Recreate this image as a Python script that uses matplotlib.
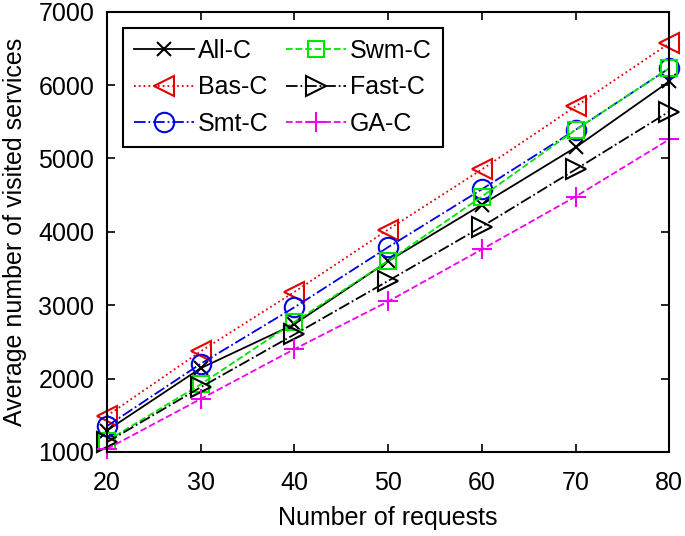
import matplotlib.pyplot as plt
import numpy as np

plt.rcParams['font.family'] = ['Liberation Sans', 'DejaVu Sans']

requests = [20, 30, 40, 50, 60, 70, 80]
all_c = [1290, 2140, 2740, 3600, 4370, 5150, 6050]
bas_c = [1490, 2370, 3180, 4030, 4850, 5710, 6570]
smt_c = [1350, 2200, 2970, 3790, 4580, 5390, 6230]
swm_c = [1150, 1920, 2770, 3600, 4480, 5390, 6230]
fast_c = [1130, 1880, 2600, 3330, 4070, 4850, 5640]
ga_c = [1040, 1720, 2400, 3050, 3760, 4480, 5260]

fig = plt.figure(figsize=(6.85, 5.36), dpi=100)
ax = fig.add_axes([0.156, 0.157, 0.821, 0.821])

kw = dict(mew=1.5, lw=1.3, clip_on=False)
ax.plot(requests, all_c, '-', color='k', marker='x', ms=10, label='All-C', **kw)
ax.plot(requests, bas_c, ':', color='#e60000', marker='<', ms=14, mfc='none', label='Bas-C', **kw)
ax.plot(requests, smt_c, '-.', color='#0000e6', marker='o', ms=14, mfc='none', label='Smt-C', **kw)
ax.plot(requests, swm_c, '--', color='#00e600', marker='s', ms=11, mfc='none', label='Swm-C', **kw)
ax.plot(requests, fast_c, '-.', color='k', marker='>', ms=14, mfc='none', label='Fast-C', **kw)
ax.plot(requests, ga_c, '--', color='#f000f0', marker='+', ms=15, label='GA-C', **kw)

ax.set_xlim(20, 80)
ax.set_ylim(1000, 7000)
ax.set_xticks(requests)
ax.set_yticks(np.arange(1000, 7001, 1000))
ax.tick_params(direction='in', top=True, right=True, labelsize=18, length=6, width=1.2)
ax.tick_params(axis='x', pad=14)
ax.tick_params(axis='y', pad=9)
for s in ax.spines.values():
    s.set_linewidth(1.5)

ax.set_xlabel('Number of requests', fontsize=18, labelpad=8)
ax.set_ylabel('Average number of visited services', fontsize=18, labelpad=8)

leg = ax.legend(ncol=2, loc='upper left', bbox_to_anchor=(0.028, 0.964), fontsize=18,
                fancybox=False, edgecolor='k', framealpha=1, handlelength=2.4,
                columnspacing=0.7, handletextpad=0.15, borderaxespad=0, borderpad=0.45,
                labelspacing=0.5)
leg.get_frame().set_linewidth(1.5)

fig.savefig('out.png', dpi=100)
